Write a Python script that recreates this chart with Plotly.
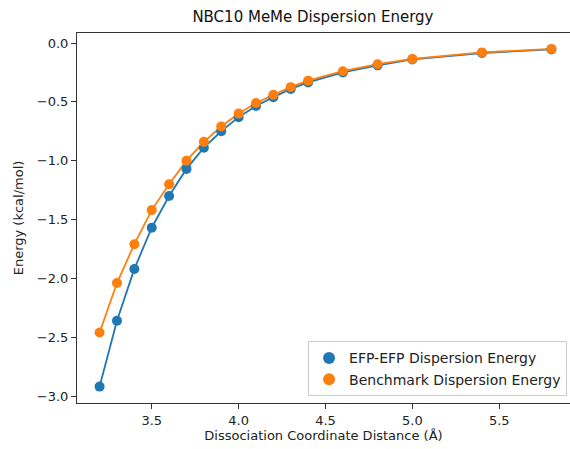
import plotly.graph_objects as go

distance = [3.2, 3.3, 3.4, 3.5, 3.6, 3.7, 3.8, 3.9, 4.0, 4.1, 4.2, 4.3, 4.4, 4.6, 4.8, 5.0, 5.4, 5.8]
efp_energy = [-2.92, -2.36, -1.92, -1.57, -1.30, -1.07, -0.89, -0.75, -0.63, -0.535, -0.46, -0.39, -0.335,
              -0.25, -0.19, -0.14, -0.085, -0.055]
bench_energy = [-2.46, -2.04, -1.71, -1.42, -1.20, -1.00, -0.84, -0.71, -0.60, -0.51, -0.44, -0.375, -0.32,
                -0.24, -0.18, -0.135, -0.08, -0.05]
x_ticks = [3.5, 4.0, 4.5, 5.0, 5.5]
y_ticks = [0.0, -0.5, -1.0, -1.5, -2.0, -2.5, -3.0]

blue = "#1f77b4"
orange = "#ff7f0e"
font = "DejaVu Sans"

fig = go.Figure()
fig.add_trace(go.Scatter(x=distance, y=efp_energy, mode="lines", line=dict(color=blue, width=1.8),
                         showlegend=False, hoverinfo="skip"))
fig.add_trace(go.Scatter(x=distance, y=bench_energy, mode="lines", line=dict(color=orange, width=1.8),
                         showlegend=False, hoverinfo="skip"))
fig.add_trace(go.Scatter(x=distance, y=efp_energy, mode="markers", name="EFP-EFP Dispersion Energy",
                         marker=dict(color=blue, size=10)))
fig.add_trace(go.Scatter(x=distance, y=bench_energy, mode="markers", name="Benchmark Dispersion Energy",
                         marker=dict(color=orange, size=10)))

axis_common = dict(showgrid=False, zeroline=False, ticks="outside", ticklen=5, tickwidth=1,
                   tickcolor="#333", linecolor="#333", linewidth=1, showline=True,
                   tickfont=dict(family=font, size=13, color="#222"))

fig.update_layout(
    width=570, height=449,
    margin=dict(l=77, r=0, t=33, b=46),
    paper_bgcolor="white", plot_bgcolor="white",
    title=dict(text="NBC10 MeMe Dispersion Energy", x=0.549, xanchor="center", y=0.962, yanchor="middle",
               font=dict(family=font, size=15, color="#111")),
    xaxis=dict(range=[3.07, 5.907], tickvals=x_ticks, ticktext=[f"{v:.1f}" for v in x_ticks],
               mirror=True,
               title=dict(text="Dissociation Coordinate Distance (Å)", font=dict(family=font, size=13, color="#222"),
                          standoff=4),
               **axis_common),
    yaxis=dict(range=[-3.0595, 0.085], tickvals=y_ticks,
               ticktext=[("−" if v < 0 else "") + f"{abs(v):.1f}" for v in y_ticks],
               title=dict(text="Energy (kcal/mol)", font=dict(family=font, size=13, color="#222"), standoff=10),
               **axis_common),
    legend=dict(x=0.994, y=0.018, xanchor="right", yanchor="bottom",
                bgcolor="rgba(255,255,255,0.8)", bordercolor="#ccc", borderwidth=1,
                font=dict(family=font, size=14, color="#222"), itemsizing="constant"),
)

fig.write_html("out.html")
